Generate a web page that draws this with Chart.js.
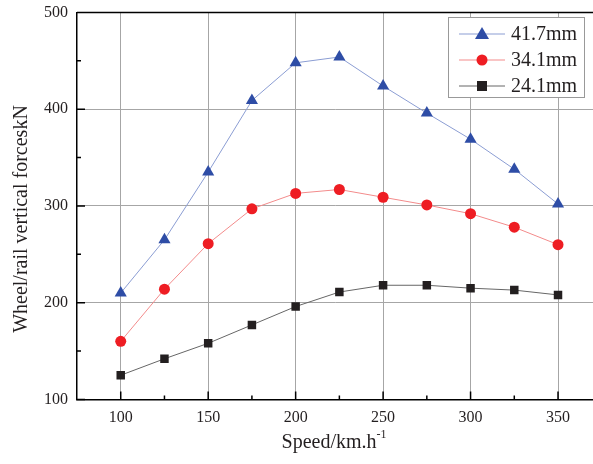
<!DOCTYPE html>
<html>
<head>
<meta charset="utf-8">
<script src="https://cdn.jsdelivr.net/npm/chart.js@4"></script>
<style>
  html, body { margin: 0; padding: 0; background: #fff; }
  #wrap { width: 593px; height: 464px; }
</style>
</head>
<body>
<div id="wrap"><canvas id="c" width="593" height="464"></canvas></div>
<script>
// data
const speeds = [100, 125, 150, 175, 200, 225, 250, 275, 300, 325, 350];
const f417 = [210, 265, 335, 409, 448, 454, 424, 396, 369, 338, 302];
const f341 = [160, 214, 261, 297, 313, 317, 309, 301, 292, 278, 260];
const f241 = [125, 142, 158, 177, 196, 211, 218, 218, 215, 213, 208];
const xTicks = [100, 150, 200, 250, 300, 350];
const xMinor = [125, 175, 225, 275, 325];
const yTicks = [100, 200, 300, 400, 500];
const yMinor = [150, 250, 350, 450];

const FONT = '"Liberation Serif", "DejaVu Serif", serif';

const SERIES = [
    { label: '41.7mm', data: f417, line: '#8B9DD3', mark: '#2E4DA6', style: 'triangle', r: 7 },
    { label: '34.1mm', data: f341, line: '#F38B8B', mark: '#EE1D23', style: 'circle', r: 5.5 },
    { label: '24.1mm', data: f241, line: '#666666', mark: '#231F20', style: 'rect', r: 6 },
];

// inward ticks, top frame, titles and legend
const decor = {
    id: 'decor',
    afterDraw(chart) {
        const ctx = chart.ctx;
        const a = chart.chartArea;
        const xs = chart.scales.x, ys = chart.scales.y;
        ctx.save();
        ctx.strokeStyle = '#000';
        ctx.lineWidth = 1.5;
        ctx.beginPath();
        ctx.moveTo(a.left, a.top); ctx.lineTo(a.right, a.top);
        xTicks.forEach(v => { const p = xs.getPixelForValue(v); ctx.moveTo(p, a.bottom); ctx.lineTo(p, a.bottom - 8); });
        xMinor.forEach(v => { const p = xs.getPixelForValue(v); ctx.moveTo(p, a.bottom); ctx.lineTo(p, a.bottom - 4); });
        yTicks.forEach(v => { const p = ys.getPixelForValue(v); ctx.moveTo(a.left, p); ctx.lineTo(a.left + 8, p); });
        yMinor.forEach(v => { const p = ys.getPixelForValue(v); ctx.moveTo(a.left, p); ctx.lineTo(a.left + 4, p); });
        ctx.stroke();

        // axis titles
        ctx.fillStyle = '#231F20';
        ctx.textBaseline = 'middle';
        const main = 'Speed/km.h';
        ctx.font = '20px ' + FONT;
        const mw = ctx.measureText(main).width;
        ctx.font = '12px ' + FONT;
        const sw = ctx.measureText('-1').width;
        const tx = 334 - (mw + sw) / 2;
        ctx.textAlign = 'left';
        ctx.font = '20px ' + FONT;
        ctx.fillText(main, tx, 443);
        ctx.font = '12px ' + FONT;
        ctx.fillText('-1', tx + mw, 435);

        ctx.save();
        ctx.translate(22, 219);
        ctx.rotate(-Math.PI / 2);
        ctx.textAlign = 'center';
        ctx.font = '20px ' + FONT;
        ctx.fillText('Wheel/rail vertical forceskN', 0, 0);
        ctx.restore();

        // legend
        const bx = 448, by = 17, bw = 136, bh = 80;
        ctx.fillStyle = '#fff';
        ctx.fillRect(bx, by, bw, bh);
        ctx.strokeStyle = '#999';
        ctx.lineWidth = 1;
        ctx.strokeRect(bx + 0.5, by + 0.5, bw, bh);
        SERIES.forEach((s, i) => {
            const y = 34 + i * 26;
            ctx.strokeStyle = s.line;
            ctx.lineWidth = 1;
            ctx.beginPath(); ctx.moveTo(459, y); ctx.lineTo(505, y); ctx.stroke();
            ctx.fillStyle = s.mark;
            ctx.beginPath();
            if (s.style === 'triangle') {
                ctx.moveTo(482, y - 7); ctx.lineTo(489, y + 5); ctx.lineTo(475, y + 5); ctx.closePath();
            } else if (s.style === 'circle') {
                ctx.arc(482, y, 5.5, 0, Math.PI * 2);
            } else {
                ctx.rect(477, y - 5, 10, 10);
            }
            ctx.fill();
            ctx.fillStyle = '#231F20';
            ctx.font = '20px ' + FONT;
            ctx.textAlign = 'left';
            ctx.fillText(s.label, 511, y + 1);
        });
        ctx.restore();
    }
};

new Chart(document.getElementById('c'), {
    type: 'line',
    data: {
        datasets: SERIES.map(s => ({
            label: s.label,
            data: speeds.map((x, i) => ({ x, y: s.data[i] })),
            borderColor: s.line,
            borderWidth: 1,
            backgroundColor: s.mark,
            pointBackgroundColor: s.mark,
            pointBorderColor: s.mark,
            pointBorderWidth: 0,
            pointStyle: s.style,
            pointRadius: s.r,
            tension: 0,
        }))
    },
    options: {
        responsive: false,
        animation: false,
        layout: { autoPadding: false, padding: { top: 12.5, right: 0, left: 0, bottom: 0 } },
        plugins: { legend: { display: false }, tooltip: { enabled: false } },
        scales: {
            x: {
                type: 'linear', min: 75, max: 370,
                afterBuildTicks: s => { s.ticks = xTicks.map(v => ({ value: v })); },
                afterFit: s => { s.height = 64.6; s.paddingLeft = 0; s.paddingRight = 0; },
                grid: { color: '#A6A6A6', lineWidth: 1, drawTicks: false },
                border: { color: '#000', width: 1.5 },
                ticks: { padding: 9, color: '#231F20', font: { family: FONT, size: 16 } },
            },
            y: {
                min: 100, max: 500,
                afterBuildTicks: s => { s.ticks = yTicks.map(v => ({ value: v })); },
                afterFit: s => { s.width = 77; s.paddingTop = 0; s.paddingBottom = 0; },
                grid: { color: '#A6A6A6', lineWidth: 1, drawTicks: false },
                border: { color: '#000', width: 1.5 },
                ticks: { padding: 9, color: '#231F20', font: { family: FONT, size: 16 } },
            }
        }
    },
    plugins: [decor]
});
</script>
</body>
</html>
